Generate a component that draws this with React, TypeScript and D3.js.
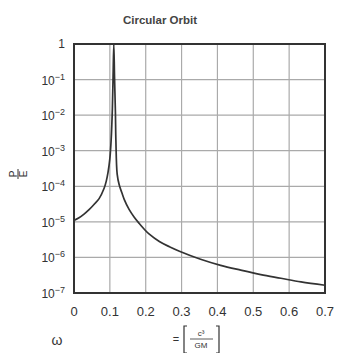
import React from "react";
import * as d3 from "d3";

const xTicks = [0, 0.1, 0.2, 0.3, 0.4, 0.5, 0.6, 0.7];
const yExponents = [0, -1, -2, -3, -4, -5, -6, -7];
const supDigits: Record<string, string> = { "-": "−", "1": "1", "2": "2", "3": "3", "4": "4", "5": "5", "6": "6", "7": "7" };

const omega = [0, 0.014, 0.028, 0.042, 0.056, 0.07, 0.084, 0.09, 0.095, 0.1, 0.1036, 0.107, 0.109, 0.111, 0.113, 0.1155, 0.1168, 0.1204, 0.126, 0.133, 0.14, 0.154, 0.168, 0.182, 0.196, 0.21, 0.238, 0.266, 0.294, 0.353, 0.409, 0.465, 0.521, 0.577, 0.633, 0.7];
const power = [1.1e-5, 1.3e-5, 1.65e-5, 2.2e-5, 3.1e-5, 4.5e-5, 8.8e-5, 1.4e-4, 2.5e-4, 6e-4, 2e-3, 1.5e-2, 0.12, 1, 0.12, 1.2e-2, 2e-3, 2.2e-4, 1.1e-4, 6.8e-5, 4.3e-5, 2.2e-5, 1.35e-5, 9e-6, 6.2e-6, 4.5e-6, 2.8e-6, 2e-6, 1.5e-6, 8.9e-7, 6e-7, 4.4e-7, 3.3e-7, 2.6e-7, 2.05e-7, 1.65e-7];

export default function App() {
  const W = 338, H = 353;
  const x = d3.scaleLinear().domain([0, 0.7]).range([74, 325]);
  const y = d3.scaleLog().domain([1e-7, 1]).range([293, 44]);
  const line = d3.line<number>()
    .x((_, i) => x(omega[i]))
    .y((d) => y(d))
    .curve(d3.curveCatmullRom.alpha(0.5));
  const font = "Liberation Sans, Arial, sans-serif";
  const expo = (e: number) => String(e).split("").map((c) => supDigits[c]).join("");
  return (
    <svg width={W} height={H} style={{ position: "absolute", left: 0, top: 0, background: "#fff" }} fontFamily={font}>
      <defs>
        <clipPath id="plotClip">
          <rect x={x(0)} y={y(1)} width={x(0.7) - x(0)} height={y(1e-7) - y(1)} />
        </clipPath>
      </defs>
      <rect width={W} height={H} fill="#fff" />
      <text x={160} y={24} fontSize={11.5} fontWeight="bold" textAnchor="middle" fill="#444">Circular Orbit</text>
      {xTicks.map((t) => (
        <line key={"gx" + t} x1={x(t)} x2={x(t)} y1={y(1)} y2={y(1e-7)} stroke="#aaa" strokeWidth={1.2} />
      ))}
      {yExponents.map((e) => (
        <line key={"gy" + e} x1={x(0)} x2={x(0.7)} y1={y(Math.pow(10, e))} y2={y(Math.pow(10, e))} stroke="#aaa" strokeWidth={1.2} />
      ))}
      <path d={line(power) || ""} fill="none" stroke="#333" strokeWidth={1.7} clipPath="url(#plotClip)" />
      <rect x={x(0)} y={y(1)} width={x(0.7) - x(0)} height={y(1e-7) - y(1)} fill="none" stroke="#333" strokeWidth={2} />
      {yExponents.map((e) =>
        e === 0 ? (
          <text key={"ly" + e} x={65} y={y(1) + 4} fontSize={12} textAnchor="end" fill="#333">1</text>
        ) : (
          <text key={"ly" + e} x={65} y={y(Math.pow(10, e)) + 5} fontSize={12} textAnchor="end" fill="#333">
            10<tspan fontSize={9} dy={-5}>{expo(e)}</tspan>
          </text>
        )
      )}
      {xTicks.map((t) => (
        <text key={"lx" + t} x={x(t)} y={316} fontSize={13} textAnchor="middle" fill="#333">{t === 0 ? "0" : String(t)}</text>
      ))}
      <g transform="translate(18,174) rotate(-90)">
        <text x={0} y={-1.5} fontSize={10} textAnchor="middle" fill="#333">P</text>
        <line x1={-5} x2={5} y1={0} y2={0} stroke="#333" strokeWidth={1} />
        <text x={0} y={9} fontSize={10} textAnchor="middle" fill="#333">E</text>
      </g>
      <text x={57} y={345} fontSize={14} textAnchor="middle" fill="#333">ω</text>
      <text x={176} y={343} fontSize={11} textAnchor="middle" fill="#333">=</text>
      <path d="M187,326 L184,326 L184,353 L187,353 M216,326 L219,326 L219,353 L216,353" fill="none" stroke="#333" strokeWidth={1.2} />
      <text x={201} y={336} fontSize={8} textAnchor="middle" fill="#333">c³</text>
      <line x1={190} x2={213} y1={339} y2={339} stroke="#333" strokeWidth={0.8} />
      <text x={201} y={348} fontSize={8} textAnchor="middle" fill="#333">GM</text>
    </svg>
  );
}
